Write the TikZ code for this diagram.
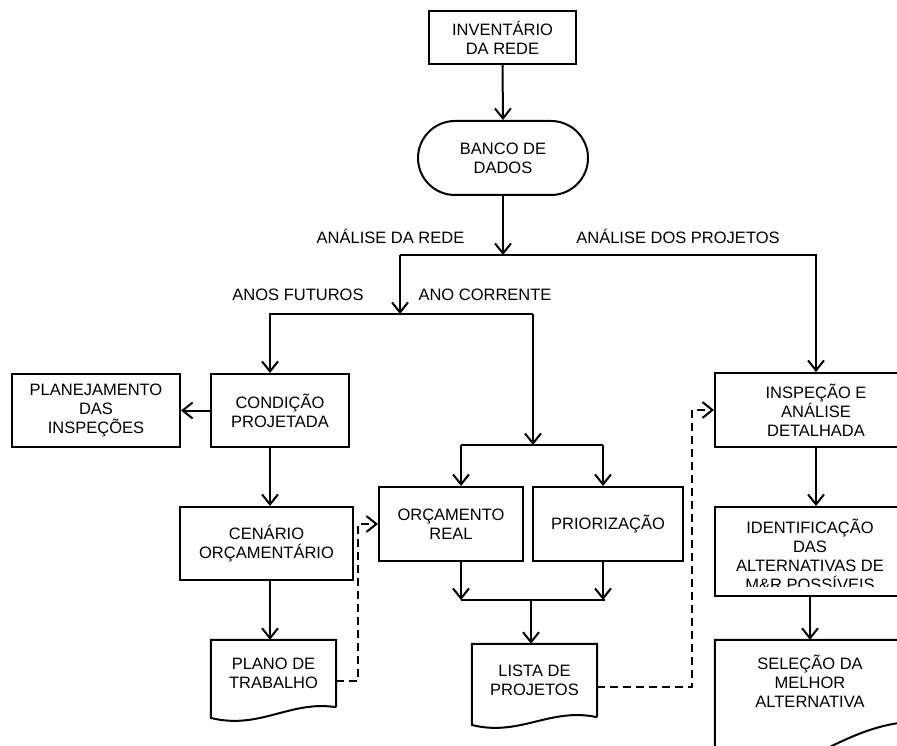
\documentclass[tikz,border=0pt]{standalone}
\usepackage{fontspec}
\setmainfont{Liberation Sans}
\usetikzlibrary{arrows.meta,calc}
\begin{document}
\begin{tikzpicture}[x=1pt,y=-1pt,
  every node/.style={font=\fontsize{16.5}{19}\selectfont, align=center, text=black},
  box/.style={draw, line width=2pt, inner sep=0pt},
  docnode/.style={inner sep=0pt},
  lbl/.style={inner sep=0pt},
  plain/.style={line width=2pt},
  conn/.style={line width=2pt, -{Straight Barb[length=10pt,width=16pt]}},
  dsh/.style={line width=1.7pt, dash pattern=on 8pt off 5pt},
]
\useasboundingbox (0,0) rectangle (897,746);
\fill[white] (0,0) rectangle (897,746);
\clip (0,0) rectangle (897,746);

% --- boxes ---
\node[box, minimum width=147pt, minimum height=53pt] (inv) at (502.5,37.5) {INVENTÁRIO\\DA REDE};
\node[box, rounded corners=37pt, minimum width=170pt, minimum height=74pt] (banco) at (503,158) {BANCO DE\\DADOS};
\node[box, minimum width=168pt, minimum height=73pt] (plan) at (96,410.5) {PLANEJAMENTO\\DAS\\INSPEÇÕES};
\node[box, minimum width=138pt, minimum height=73pt] (cond) at (280,410.5) {CONDIÇÃO\\PROJETADA};
\node[box, minimum width=173pt, minimum height=73pt] (cen) at (266.5,543.5) {CENÁRIO\\ORÇAMENTÁRIO};
\node[box, minimum width=144pt, minimum height=74pt] (orc) at (451,524) {ORÇAMENTO\\REAL};
\node[box, minimum width=150pt, minimum height=74pt] (prior) at (608,524) {PRIORIZAÇÃO};
\node[box, minimum width=202pt, minimum height=74pt] (insp) at (816,410) {INSPEÇÃO E\\ANÁLISE\\DETALHADA};
\node[box, minimum width=190pt, minimum height=89pt] (ident) at (810,551.5) {};
\begin{scope}
  % the last line of this label runs past the inner edge of its box
  \clip (715,507) rectangle (905,586);
  \node (identtxt) at (810,555) {IDENTIFICAÇÃO\\DAS\\ALTERNATIVAS DE\\M\&R POSSÍVEIS};
\end{scope}

% --- document shapes ---
\node[docnode, minimum width=125pt, minimum height=67pt] (plano) at (273.5,673.5) {PLANO DE\\TRABALHO};
\draw[plain] (plano.south east) -- (plano.north east) -- (plano.north west) -- (211,718)
  .. controls (260,730) and (290,700) .. (plano.south east);
\node[docnode, minimum width=125pt, minimum height=73pt] (lista) at (534.5,680.5) {LISTA DE\\PROJETOS};
\draw[plain] (lista.south east) -- (lista.north east) -- (lista.north west) -- (472,725)
  .. controls (520,737) and (550,707) .. (lista.south east);
\node[docnode, minimum width=190pt, minimum height=82pt] (sel) at (810,681) {SELEÇÃO DA\\MELHOR\\ALTERNATIVA};
\draw[plain] (sel.south east) -- (sel.north east) -- (sel.north west) -- (715,770)
  .. controls (790,790) and (830,730) .. (sel.south east);

% --- branch labels ---
\node[lbl] (lrede) at (390.5,236) {ANÁLISE DA REDE};
\node[lbl] (lproj) at (678,236) {ANÁLISE DOS PROJETOS};
\node[lbl] (lfut) at (298,295) {ANOS FUTUROS};
\node[lbl] (lcor) at (485,295) {ANO CORRENTE};

% --- junction points ---
\coordinate (jA) at (503,255);
\coordinate (jAL) at (400,255);
\coordinate (jB) at (400,314);
\coordinate (jBL) at (270,314);
\coordinate (jBR) at (533,314);
\coordinate (jC) at (533,445);
\coordinate (jCL) at (461,445);
\coordinate (jCR) at (603,445);
\coordinate (jD) at (531,600);
\coordinate (jDL) at (461,600);
\coordinate (jDR) at (603,600);

% --- connectors ---
\draw[conn] (inv.south) -- (banco.north);
\draw[conn] (banco.south) -- (jA);
\draw[conn] (jAL) -- (jAL -| insp.north) -- (insp.north);
\draw[conn] (jAL) -- (jB);
\draw[conn] (jBR) -- (jBL) -- (jBL |- cond.north);
\draw[conn] (jBR) -- (jC);
\draw[plain] (jCL) -- (jCR);
\draw[conn] (jCL) -- (jCL |- orc.north);
\draw[conn] (jCR) -- (jCR |- prior.north);
\draw[conn] (cond.west) -- (plan.east);
\draw[conn] (jBL |- cond.south) -- (jBL |- cen.north);
\draw[conn] (jBL |- cen.south) -- (jBL |- plano.north);
\draw[conn] (jDL |- orc.south) -- (jDL);
\draw[conn] (jDR |- prior.south) -- (jDR);
\draw[plain] (jDL) -- ([xshift=2pt]jDR);
\draw[conn] (jD) -- (jD |- lista.north);
\draw[conn] (insp.south) -- (insp.south |- ident.north);
\draw[conn] (ident.south) -- (sel.north);

% --- dashed feedback links ---
\draw[dsh, conn] ([yshift=-7.5pt]plano.east) -- ++(22,0) |- (orc.west);
\draw[dsh, conn] ([yshift=-6.5pt]lista.east) -- ++(95,0) |- (insp.west);
\end{tikzpicture}
\end{document}
